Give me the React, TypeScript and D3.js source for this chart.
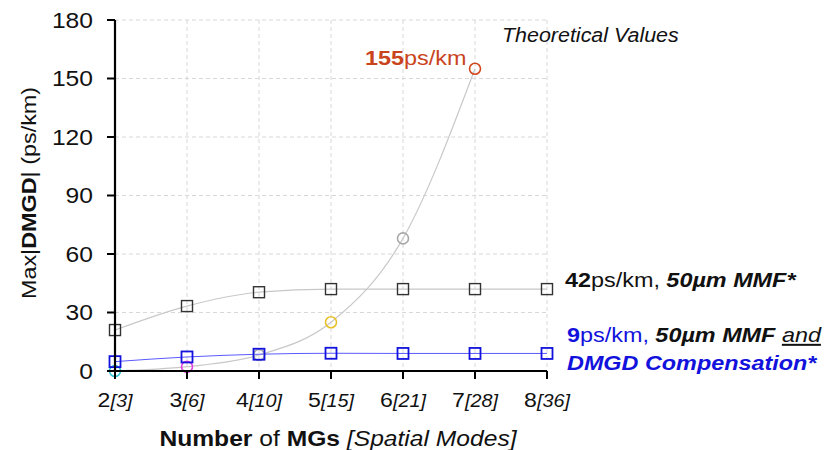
import React from "react";
import * as d3 from "d3";

// Number of mode groups (MGs) and the matching spatial-mode counts
const mgs = [2, 3, 4, 5, 6, 7, 8];
const spatialModes = [3, 6, 10, 15, 21, 28, 36];
const yTicks = [0, 30, 60, 90, 120, 150, 180];

// Max |DMGD| (ps/km)
const mmfValues = [21, 33.3, 40.4, 42, 42, 42, 42];
const compensatedValues = [4.8, 7.2, 8.6, 9.1, 9, 9, 9];
const theoreticalMGs = [2, 3, 4, 5, 6, 7];
const theoreticalValues = [0, 2.2, 8.2, 25, 68, 155];
const theoreticalColors = ["#38c4d6", "#e040e0", "#a8a8a8", "#e8c22a", "#a8a8a8", "#d2461e"];

const W = 825;
const H = 450;
const FONT = "'Liberation Sans', Arial, sans-serif";
const BLUE = "#1212dc";
const ORANGE = "#c9441c";
// the typeface used for the labels runs a little wider than Arial
const SX = 1.17;

function Wide({
  x,
  y,
  rotate = 0,
  sx = SX,
  children,
}: {
  x: number;
  y: number;
  rotate?: number;
  sx?: number;
  children: React.ReactNode;
}) {
  return <g transform={`translate(${x},${y}) rotate(${rotate}) scale(${sx},1)`}>{children}</g>;
}

export default function App() {
  const x = d3.scaleLinear().domain([2, 8]).range([115, 547]);
  const y = d3.scaleLinear().domain([0, 180]).range([371, 20]);

  const mmfLine = d3
    .line<number>()
    .x((_, i) => x(mgs[i]))
    .y((d) => y(d))
    .curve(d3.curveMonotoneX);
  const theoLine = d3
    .line<number>()
    .x((_, i) => x(theoreticalMGs[i]))
    .y((d) => y(d))
    .curve(d3.curveMonotoneX);

  const sq = 11;

  return (
    <div style={{ position: "absolute", left: 0, top: 0 }}>
      <svg width={W} height={H} style={{ display: "block", background: "#fff" }} fontFamily={FONT}>
        {/* grid */}
        {yTicks.slice(1).map((t) => (
          <line
            key={"gy" + t}
            x1={x(2)}
            x2={x(8)}
            y1={y(t)}
            y2={y(t)}
            stroke="#d8d8d8"
            strokeDasharray="4,3"
          />
        ))}
        {mgs.slice(1).map((m) => (
          <line
            key={"gx" + m}
            x1={x(m)}
            x2={x(m)}
            y1={y(180)}
            y2={y(0)}
            stroke="#d8d8d8"
            strokeDasharray="4,3"
          />
        ))}

        {/* series lines */}
        <path d={theoLine(theoreticalValues) || ""} fill="none" stroke="#c8c8c8" strokeWidth={1.2} />
        <path d={mmfLine(mmfValues) || ""} fill="none" stroke="#c8c8c8" strokeWidth={1.2} />
        <path d={mmfLine(compensatedValues) || ""} fill="none" stroke="#5a5aff" strokeWidth={1} />

        {/* theoretical markers */}
        {theoreticalValues.map((v, i) => (
          <circle
            key={"c" + i}
            cx={x(theoreticalMGs[i])}
            cy={y(v)}
            r={5.5}
            fill="none"
            stroke={theoreticalColors[i]}
            strokeWidth={1.6}
          />
        ))}
        {/* 50um MMF markers */}
        {mmfValues.map((v, i) => (
          <rect
            key={"m" + i}
            x={x(mgs[i]) - sq / 2}
            y={y(v) - sq / 2}
            width={sq}
            height={sq}
            fill="none"
            stroke="#333"
            strokeWidth={1.4}
          />
        ))}
        {/* compensated markers */}
        {compensatedValues.map((v, i) => (
          <rect
            key={"b" + i}
            x={x(mgs[i]) - sq / 2}
            y={y(v) - sq / 2}
            width={sq}
            height={sq}
            fill="none"
            stroke={BLUE}
            strokeWidth={1.8}
          />
        ))}

        {/* axes */}
        <line x1={x(2)} x2={x(2)} y1={y(180)} y2={y(0) + 1} stroke="#000" strokeWidth={2.2} />
        <line x1={x(2) - 1} x2={x(8)} y1={y(0)} y2={y(0)} stroke="#000" strokeWidth={2.2} />
        {yTicks.map((t) => (
          <g key={"yt" + t}>
            <line x1={x(2) - 8} x2={x(2)} y1={y(t)} y2={y(t)} stroke="#000" strokeWidth={2} />
            <Wide x={x(2) - 22} y={y(t)} sx={1.12}>
              <text dy="0.36em" textAnchor="end" fontSize={22} fill="#111">
                {t}
              </text>
            </Wide>
          </g>
        ))}
        {mgs.map((m, i) => (
          <g key={"xt" + m}>
            <line x1={x(m)} x2={x(m)} y1={y(0)} y2={y(0) + 8} stroke="#000" strokeWidth={2} />
            <Wide x={x(m)} y={407} sx={1.1}>
              <text textAnchor="middle" fill="#111">
                <tspan fontSize={21}>{m}</tspan>
                <tspan fontSize={18} fontStyle="italic">[{spatialModes[i]}]</tspan>
              </text>
            </Wide>
          </g>
        ))}

        {/* axis titles */}
        <Wide x={338} y={446} sx={1.12}>
          <text textAnchor="middle" fontSize={22} fill="#111">
            <tspan fontWeight="bold">Number</tspan>
            <tspan> of </tspan>
            <tspan fontWeight="bold">MGs</tspan>
            <tspan fontStyle="italic"> [Spatial Modes]</tspan>
          </text>
        </Wide>
        <Wide x={36} y={193} rotate={-90}>
          <text textAnchor="middle" fontSize={20} fill="#111">
            <tspan>Max|</tspan>
            <tspan fontWeight="bold">DMGD</tspan>
            <tspan>| (ps/km)</tspan>
          </text>
        </Wide>

        {/* annotations */}
        <Wide x={502} y={42} sx={1.1}>
          <text fontSize={19.5} fontStyle="italic" fill="#111">
            Theoretical Values
          </text>
        </Wide>
        <Wide x={365} y={65}>
          <text fontSize={20} fill={ORANGE}>
            <tspan fontWeight="bold">{theoreticalValues[5]}</tspan>
            <tspan>ps/km</tspan>
          </text>
        </Wide>
        <Wide x={565} y={287}>
          <text fontSize={20} fill="#111">
            <tspan fontWeight="bold">{mmfValues[6]}</tspan>
            <tspan>ps/km, </tspan>
            <tspan fontWeight="bold" fontStyle="italic">50µm MMF*</tspan>
          </text>
        </Wide>
        <Wide x={567} y={342}>
          <text fontSize={20} fill="#111">
            <tspan fontWeight="bold" fill={BLUE}>{compensatedValues[6]}</tspan>
            <tspan fill={BLUE}>ps/km, </tspan>
            <tspan fontWeight="bold" fontStyle="italic">50µm MMF </tspan>
            <tspan fontStyle="italic" textDecoration="underline">and</tspan>
          </text>
        </Wide>
        <Wide x={567} y={370}>
          <text fontSize={20} fontWeight="bold" fontStyle="italic" fill={BLUE}>
            DMGD Compensation*
          </text>
        </Wide>
      </svg>
    </div>
  );
}
